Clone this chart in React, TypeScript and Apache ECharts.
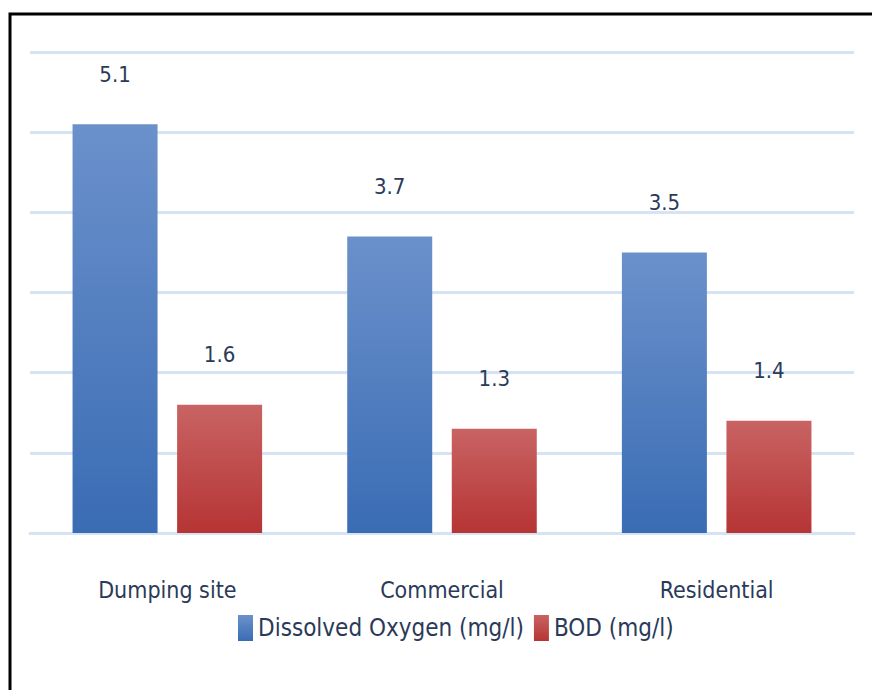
import React, { useEffect, useRef } from "react";
import * as echarts from "echarts";

const categories = ["Dumping site", "Commercial", "Residential"];
const dissolvedOxygen = [5.1, 3.7, 3.5];
const bod = [1.6, 1.3, 1.4];
const seriesNames = ["Dissolved Oxygen (mg/l)", "BOD (mg/l)"];

const FONT = "'Liberation Sans Narrow', 'DejaVu Sans Condensed', 'Liberation Sans', sans-serif";
const TEXT = "#2A3A58";

export default function App() {
  const ref = useRef<HTMLDivElement>(null);
  useEffect(() => {
    if (!ref.current) return;
    const chart = echarts.init(ref.current, null, { renderer: "svg" });
    const grad = (a: string, b: string) =>
      new echarts.graphic.LinearGradient(0, 0, 0, 1, [
        { offset: 0, color: a },
        { offset: 1, color: b },
      ]);
    chart.setOption({
      animation: false,
      backgroundColor: "#ffffff",
      textStyle: { fontFamily: FONT },
      graphic: [
        {
          type: "rect",
          shape: { x: 10, y: 14, width: 900, height: 700 },
          style: { fill: "none", stroke: "#000", lineWidth: 3 },
          silent: true,
        },
      ],
      grid: { left: 30, right: 18, top: 52, bottom: 157, containLabel: false },
      legend: {
        bottom: 44,
        left: 233,
        itemWidth: 15,
        itemHeight: 26,
        itemGap: 10,
        icon: "rect",
        textStyle: { fontFamily: FONT, fontSize: 24, color: TEXT },
        data: seriesNames,
      },
      xAxis: {
        type: "category",
        data: categories,
        axisLine: { lineStyle: { color: "#D6E3F2", width: 3 } },
        axisTick: { show: false },
        axisLabel: { fontFamily: FONT, fontSize: 23, color: TEXT, margin: 45 },
      },
      yAxis: {
        type: "value",
        min: 0,
        max: 6,
        interval: 1,
        axisLabel: { show: false },
        axisLine: { show: false },
        axisTick: { show: false },
        splitLine: { lineStyle: { color: "#D6E3F2", width: 3 } },
      },
      series: [
        {
          name: seriesNames[0],
          type: "bar",
          data: dissolvedOxygen,
          barWidth: 85,
          barGap: "23%",
          itemStyle: { color: grad("#6B91CB", "#3A6CB4") },
          label: {
            show: true,
            position: "top",
            distance: 39,
            fontFamily: FONT,
            fontSize: 22,
            color: TEXT,
          },
        },
        {
          name: seriesNames[1],
          type: "bar",
          data: bod,
          barWidth: 85,
          itemStyle: { color: grad("#C96363", "#B63434") },
          label: {
            show: true,
            position: "top",
            distance: 39,
            fontFamily: FONT,
            fontSize: 22,
            color: TEXT,
          },
        },
      ],
    });
    return () => chart.dispose();
  }, []);
  return (
    <div
      ref={ref}
      style={{ position: "fixed", left: 0, top: 0, width: 872, height: 690 }}
    />
  );
}
